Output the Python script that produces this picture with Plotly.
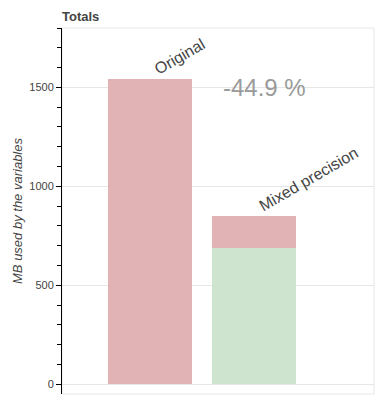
"""Memory totals: original vs mixed precision, stacked bars."""

import plotly.graph_objects as go

categories = ["Original", "Mixed precision"]
# MB kept as reduced precision (green) and MB left unchanged (red)
reduced_mb = [0, 690]
unchanged_mb = [1542, 160]

totals = [r + u for r, u in zip(reduced_mb, unchanged_mb)]
change_pct = (totals[1] - totals[0]) / totals[0] * 100

FONT = "Liberation Sans, Arial, sans-serif"
TEXT = "#444444"
GRID = "#e6e6e6"

fig = go.Figure()
fig.add_trace(
    go.Bar(
        x=categories, y=reduced_mb,
        marker=dict(color="#cfe4cf", line=dict(width=0)),
        width=0.8, hoverinfo="skip", showlegend=False,
    )
)
fig.add_trace(
    go.Bar(
        x=categories, y=unchanged_mb,
        marker=dict(color="#e1b3b5", line=dict(width=0)),
        width=0.8, hoverinfo="skip", showlegend=False,
    )
)

# rotated category labels sitting on top of each bar
for cat, tot in zip(categories, totals):
    fig.add_annotation(
        x=cat, y=tot, text=cat, showarrow=False, textangle=-30,
        xanchor="left", yanchor="bottom", xshift=-1, yshift=-1,
        font=dict(family=FONT, size=16, color=TEXT),
    )

fig.add_annotation(
    x=1.1, y=totals[0], text=f"{change_pct:.1f} %", showarrow=False,
    xanchor="center", yanchor="top", yshift=7,
    font=dict(family=FONT, size=24, color="#9a9a9a"),
)

# the page body adds an 8px margin, so the figure is 8px smaller than the window
fig.update_layout(
    width=379, height=399,
    margin=dict(l=54, r=13, t=20, b=13),
    paper_bgcolor="white", plot_bgcolor="white",
    barmode="stack", bargap=0,
    font=dict(family=FONT, color=TEXT, size=11),
    title=dict(
        text="<b>Totals</b>", x=0, xref="paper", xanchor="left",
        y=1 - 8 / 399, yanchor="middle",
        font=dict(family=FONT, size=13, color=TEXT),
    ),
    xaxis=dict(
        range=[-0.846, 2.154], showticklabels=False, ticks="",
        showgrid=False, zeroline=False, showline=False, fixedrange=True,
    ),
    yaxis=dict(
        range=[-49, 1800], tickvals=[0, 500, 1000, 1500],
        ticks="outside", ticklen=5, tickcolor="black", tickwidth=1,
        ticklabelstandoff=0, automargin=False,
        showline=True, linecolor="black", linewidth=1,
        showgrid=True, gridcolor=GRID, gridwidth=1, zeroline=False,
        minor=dict(ticks="outside", ticklen=4, dtick=100, tickcolor="black",
                   showgrid=False),
        title=dict(text="MB used by the variables", standoff=3,
                   font=dict(family=FONT, size=13, color=TEXT, style="italic")),
        tickfont=dict(family=FONT, size=11, color=TEXT),
    ),
    shapes=[
        dict(type="rect", xref="paper", yref="paper", x0=0, x1=1, y0=0, y1=1,
             line=dict(color=GRID, width=1), layer="below"),
    ],
)

fig.write_html("out.html")
